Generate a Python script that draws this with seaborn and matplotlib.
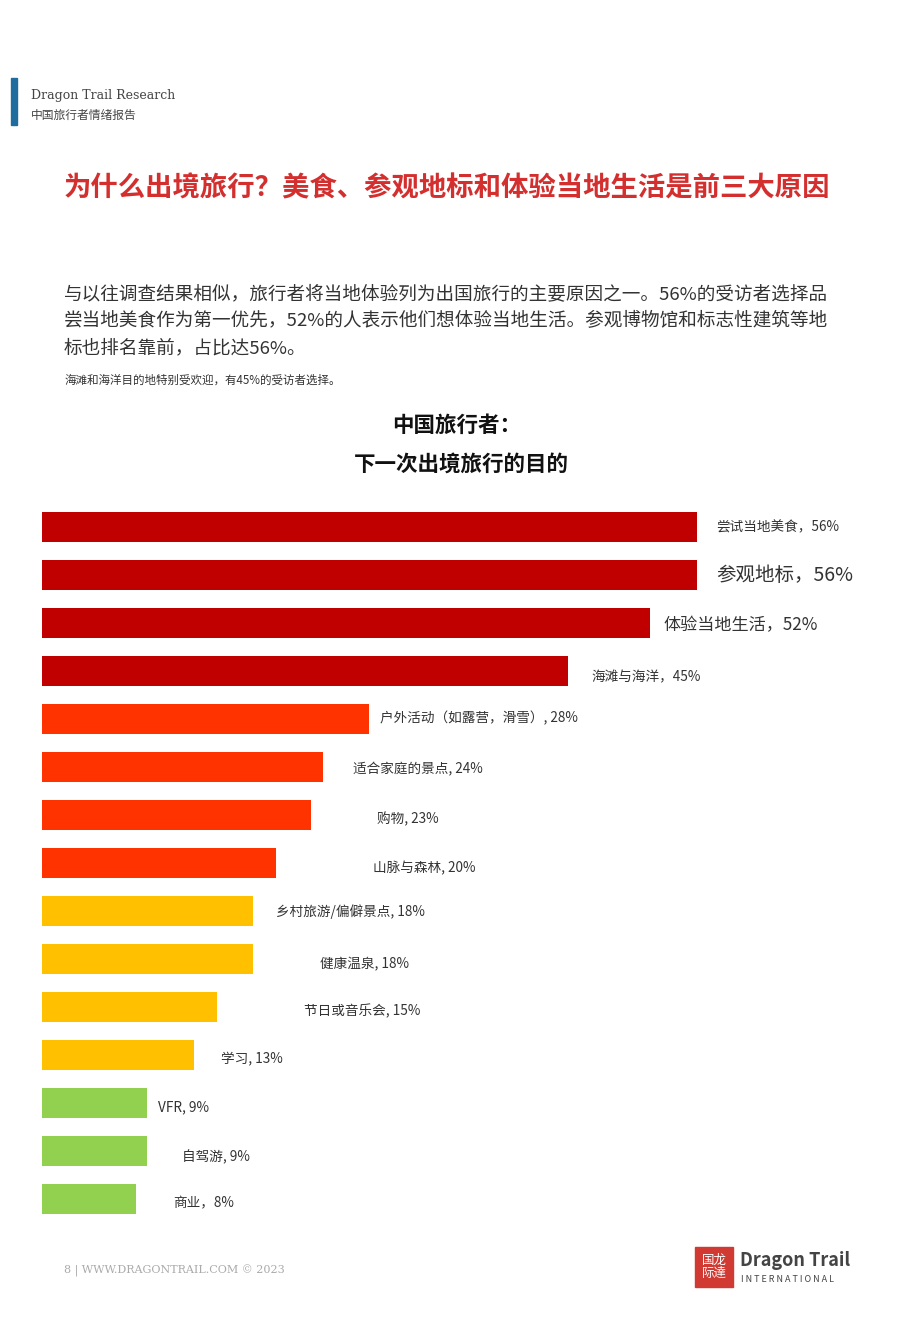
import matplotlib
matplotlib.use("Agg")
import matplotlib.pyplot as plt
import seaborn as sns
import pandas as pd
from matplotlib.patches import Rectangle

plt.rcParams["font.family"] = ["Noto Sans CJK SC", "DejaVu Sans"]

categories = ["尝试当地美食", "参观地标", "体验当地生活", "海滩与海洋", "户外活动（如露营，滑雪）",
              "适合家庭的景点", "购物", "山脉与森林", "乡村旅游/偏僻景点", "健康温泉",
              "节日或音乐会", "学习", "VFR", "自驾游", "商业"]
values = [56, 56, 52, 45, 28, 24, 23, 20, 18, 18, 15, 13, 9, 9, 8]
labels = ["尝试当地美食，56%", "参观地标，56%", "体验当地生活，52%", "海滩与海洋，45%",
          "户外活动（如露营，滑雪）, 28%", "适合家庭的景点, 24%", "购物, 23%", "山脉与森林, 20%",
          "乡村旅游/偏僻景点, 18%", "健康温泉, 18%", "节日或音乐会, 15%", "学习, 13%",
          "VFR, 9%", "自驾游, 9%", "商业，8%"]
groups = ["a"] * 4 + ["b"] * 4 + ["c"] * 4 + ["d"] * 3
palette = {"a": "#C00000", "b": "#FF3300", "c": "#FFC000", "d": "#92D050"}

# label placement (style only)
label_px = [716, 716, 663, 591, 380, 353, 377, 373, 276, 320, 304, 221, 158, 182, 173]
label_dy = [0, 1, 2, 6, -1, 2, 4, 5, 1, 5, 4, 4, 4, 6, 4]
label_fs = [9.8, 14, 12.3, 9.8, 9.8, 9.8, 9.8, 9.8, 9.8, 9.8, 9.8, 9.8, 9.8, 9.8, 9.8]

df = pd.DataFrame({"cat": categories, "val": values, "grp": groups})

W, H = 920, 1329
fig = plt.figure(figsize=(9.2, 13.29), dpi=100)
ax = fig.add_axes([42 / W, 1 - 1223 / H, 877 / W, 720 / H])
sns.barplot(data=df, x="val", y="cat", hue="grp", palette=palette, dodge=False,
            width=0.62, legend=False, ax=ax, saturation=1)
ax.set_xlim(0, 877 / (655 / 56))
ax.set_ylim(14.5, -0.5)
ax.axis("off")
pxu = 655 / 56
for i, lab in enumerate(labels):
    x = (label_px[i] - 42) / pxu
    ax.text(x, i + label_dy[i] / 48, lab, va="center", ha="left",
            fontsize=label_fs[i], color="#333333")

# header
fig.patches.append(Rectangle((11 / W, 1 - 125 / H), 6 / W, 47 / H,
                             transform=fig.transFigure, color="#1F6C9E"))
fig.text(31 / W, 1 - 95 / H, "Dragon Trail Research", fontsize=9, color="#444444",
         va="center", family="DejaVu Serif")
fig.text(31 / W, 1 - 115 / H, "中国旅行者情绪报告", fontsize=8.5, color="#444444", va="center")
fig.text(64 / W, 1 - 188 / H, "为什么出境旅行？美食、参观地标和体验当地生活是前三大原因",
         fontsize=19.7, color="#D42F2F", fontweight="bold", va="center")
body = ["与以往调查结果相似，旅行者将当地体验列为出国旅行的主要原因之一。56%的受访者选择品",
        "尝当地美食作为第一优先，52%的人表示他们想体验当地生活。参观博物馆和标志性建筑等地",
        "标也排名靠前，占比达56%。"]
for k, line in enumerate(body):
    fig.text(64 / W, 1 - (294 + 27 * k) / H, line, fontsize=13.4, color="#333333", va="center")
fig.text(64 / W, 1 - 380 / H, "海滩和海洋目的地特别受欢迎，有45%的受访者选择。",
         fontsize=8.3, color="#333333", va="center")
fig.text(457 / W, 1 - 425 / H, "中国旅行者：", fontsize=15.5, fontweight="bold",
         ha="center", va="center", color="#111111")
fig.text(461 / W, 1 - 464 / H, "下一次出境旅行的目的", fontsize=15.5, fontweight="bold",
         ha="center", va="center", color="#111111")

# footer
fig.text(64 / W, 1 - 1271 / H, "8 | WWW.DRAGONTRAIL.COM © 2023", fontsize=8, color="#AAAAAA",
         va="center", family="DejaVu Serif")
fig.patches.append(Rectangle((695 / W, 1 - 1287 / H), 38 / W, 40 / H,
                             transform=fig.transFigure, color="#D03A32"))
fig.text(714 / W, 1 - 1267 / H, "国龙\n际達", fontsize=9, color="white", ha="center",
         va="center", linespacing=1.0)
fig.text(740 / W, 1 - 1261 / H, "Dragon Trail", fontsize=13, fontweight="bold",
         color="#444444", va="center")
fig.text(741 / W, 1 - 1279 / H, "I N T E R N A T I O N A L", fontsize=6.5,
         color="#444444", va="center")

fig.savefig("out.png", dpi=100, facecolor="white")
